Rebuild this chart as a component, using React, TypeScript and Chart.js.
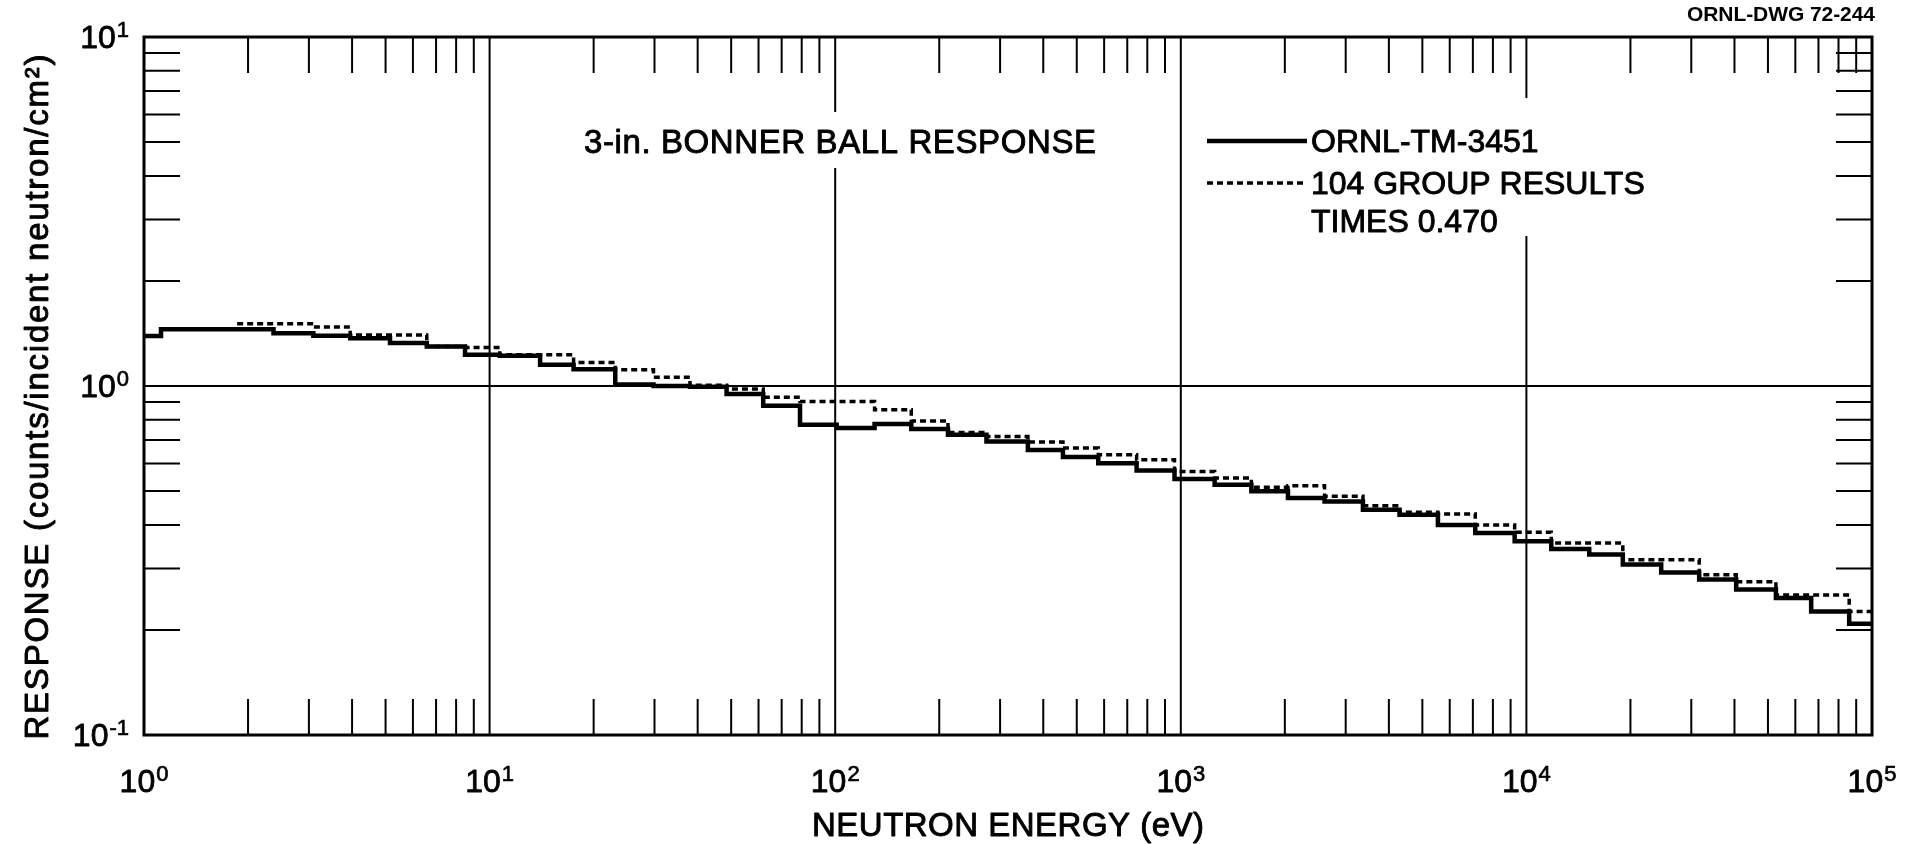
import React, { useEffect, useRef } from 'react';
import { Chart, registerables } from 'chart.js';

Chart.register(...registerables);

// ---------- data ----------
// ORNL-TM-3451 response: group edges (eV) and response per group
const ORNL_EDGES = [
  1, 1.12, 2.37, 3.09, 3.95, 5.15, 6.58, 8.49, 10.7, 14.0, 17.5, 23.1, 29.8, 38.0, 48.5,
  61.9, 79.1, 101, 130, 166, 212, 274, 361, 456, 577, 745, 959, 1253, 1600, 2042, 2606,
  3365, 4295, 5546, 7112, 9247, 11800, 15200, 19010, 24550, 31620, 40460, 52720, 66680,
  85900, 100000,
];
const ORNL_VALUES = [
  1.39, 1.455, 1.417, 1.392, 1.371, 1.327, 1.297, 1.229, 1.22, 1.15, 1.117, 1.01, 1.0,
  0.995, 0.948, 0.878, 0.774, 0.758, 0.778, 0.753, 0.725, 0.693, 0.656, 0.626, 0.601,
  0.573, 0.541, 0.521, 0.499, 0.478, 0.467, 0.442, 0.428, 0.4, 0.379, 0.359, 0.341,
  0.329, 0.308, 0.292, 0.279, 0.261, 0.247, 0.226, 0.2085,
];
// 104 group results times 0.470
const GROUP_EDGES = [
  1.86, 3.09, 3.95, 6.58, 8.49, 10.7, 17.5, 23.1, 29.8, 38.0, 48.5, 61.9, 79.1, 130, 166,
  212, 274, 361, 456, 577, 745, 959, 1253, 1600, 2042, 2606, 3365, 4295, 5546, 7112, 9247,
  11800, 19010, 31620, 40460, 52720, 85900, 100000,
];
const GROUP_VALUES = [
  1.507, 1.475, 1.4, 1.297, 1.29, 1.229, 1.168, 1.113, 1.06, 1.005, 0.98, 0.929, 0.903,
  0.855, 0.794, 0.736, 0.717, 0.691, 0.664, 0.635, 0.615, 0.569, 0.545, 0.513, 0.518,
  0.483, 0.454, 0.435, 0.43, 0.4, 0.381, 0.355, 0.318, 0.288, 0.275, 0.252, 0.226,
];

const X_DECADES = [1, 10, 100, 1000, 10000, 100000];
const X_EXPONENTS = ['0', '1', '2', '3', '4', '5'];
const Y_DECADES = [0.1, 1, 10];
const Y_EXPONENTS = ['-1', '0', '1'];
const MINOR_MULTIPLIERS = [2, 3, 4, 5, 6, 7, 8, 9];

const TITLE_TEXT = '3-in. BONNER BALL RESPONSE';
const LEGEND_SOLID = 'ORNL-TM-3451';
const LEGEND_DOTTED = '104 GROUP RESULTS';
const LEGEND_DOTTED_2 = 'TIMES 0.470';
const X_TITLE = 'NEUTRON ENERGY (eV)';
const Y_TITLE = 'RESPONSE (counts/incident neutron/cm²)';
const DWG_TEXT = 'ORNL-DWG 72-244';

// ---------- layout / style constants ----------
const W = 1909;
const H = 844;
const FONT = '"Liberation Sans", Arial, sans-serif';
const CAP = 0.716;
const TICK_LEN = 36;
const DOT_DASH = [6, 4];

function toSteps(edges: number[], values: number[]) {
  const pts: { x: number; y: number }[] = [];
  values.forEach((v, i) => {
    pts.push({ x: edges[i], y: v });
    pts.push({ x: edges[i + 1], y: v });
  });
  return pts;
}

function line(ctx: CanvasRenderingContext2D, x1: number, y1: number, x2: number, y2: number) {
  ctx.beginPath();
  ctx.moveTo(x1, y1);
  ctx.lineTo(x2, y2);
  ctx.stroke();
}

function ink(ctx: CanvasRenderingContext2D, s: string, x: number, y: number, weight: number) {
  ctx.fillText(s, x, y);
  if (weight > 0) {
    ctx.lineWidth = weight;
    ctx.lineJoin = 'round';
    ctx.strokeText(s, x, y);
  }
}

// draw text with its caps vertically centred at cy, stretched to a width if asked
function text(
  ctx: CanvasRenderingContext2D,
  s: string,
  x: number,
  cy: number,
  size: number,
  align: 'left' | 'center' | 'right',
  width?: number,
  bold = false,
  weight = 0.9
) {
  ctx.font = `${bold ? 'bold ' : ''}${size}px ${FONT}`;
  (ctx as any).letterSpacing = '0px';
  let w = ctx.measureText(s).width;
  const n = Array.from(s).length;
  if (width) {
    const ls = (width - w) / Math.max(1, n - 1);
    (ctx as any).letterSpacing = `${ls}px`;
    w = width;
  }
  let left = x;
  if (align === 'center') left = x - w / 2;
  if (align === 'right') left = x - w;
  ctx.textAlign = 'left';
  ctx.textBaseline = 'alphabetic';
  ink(ctx, s, left, cy + (size * CAP) / 2, weight);
  (ctx as any).letterSpacing = '0px';
}

function power(
  ctx: CanvasRenderingContext2D,
  exp: string,
  x: number,
  cy: number,
  align: 'center' | 'right'
) {
  const base = 32;
  const small = 22;
  ctx.font = `${base}px ${FONT}`;
  const wb = ctx.measureText('10').width;
  ctx.font = `${small}px ${FONT}`;
  const we = ctx.measureText(exp).width;
  const gap = 1;
  const total = wb + gap + we;
  const left = align === 'center' ? x - total / 2 : x - total;
  const baseline = cy + (base * CAP) / 2;
  ctx.textAlign = 'left';
  ctx.textBaseline = 'alphabetic';
  ctx.font = `${base}px ${FONT}`;
  ink(ctx, '10', left, baseline, 0.8);
  ctx.font = `${small}px ${FONT}`;
  ink(ctx, exp, left + wb + gap, baseline - 11, 0.7);
}

const decorPlugin = {
  id: 'bonnerDecor',
  beforeDatasetsDraw(chart: any) {
    const { ctx, chartArea } = chart;
    const { left, right, top, bottom } = chartArea;
    const xs = chart.scales.x;
    const ys = chart.scales.y;
    ctx.save();
    ctx.strokeStyle = '#000';
    ctx.lineCap = 'butt';
    ctx.lineWidth = 2;
    X_DECADES.forEach((v) => {
      const px = xs.getPixelForValue(v);
      line(ctx, px, top, px, bottom);
    });
    Y_DECADES.forEach((v) => {
      const py = ys.getPixelForValue(v);
      line(ctx, left, py, right, py);
    });
    X_DECADES.slice(0, -1).forEach((d) =>
      MINOR_MULTIPLIERS.forEach((m) => {
        const px = xs.getPixelForValue(d * m);
        line(ctx, px, top, px, top + TICK_LEN);
        line(ctx, px, bottom - TICK_LEN, px, bottom);
      })
    );
    Y_DECADES.slice(0, -1).forEach((d) =>
      MINOR_MULTIPLIERS.forEach((m) => {
        const py = ys.getPixelForValue(d * m);
        line(ctx, left, py, left + TICK_LEN, py);
        line(ctx, right - TICK_LEN, py, right, py);
      })
    );
    ctx.lineWidth = 3;
    ctx.strokeRect(left, top, right - left, bottom - top);
    // blank areas behind the caption and the legend (grid lines break there)
    ctx.fillStyle = '#fff';
    ctx.fillRect(575, 112, 535, 56);
    ctx.fillRect(1195, 98, 470, 138);
    ctx.restore();
  },
  afterDraw(chart: any) {
    const { ctx, chartArea } = chart;
    const { left, right, bottom } = chartArea;
    const xs = chart.scales.x;
    const ys = chart.scales.y;
    ctx.save();
    ctx.fillStyle = '#000';
    ctx.strokeStyle = '#000';

    // tick labels
    X_DECADES.forEach((v, i) => power(ctx, X_EXPONENTS[i], xs.getPixelForValue(v), bottom + 46, 'center'));
    Y_DECADES.forEach((v, i) => power(ctx, Y_EXPONENTS[i], left - 15, ys.getPixelForValue(v), 'right'));

    // caption
    text(ctx, TITLE_TEXT, 584, 141, 33, 'left', 512);

    // legend
    ctx.lineWidth = 4.5;
    ctx.setLineDash([]);
    line(ctx, 1207, 141, 1307, 141);
    ctx.lineWidth = 3.5;
    ctx.setLineDash(DOT_DASH);
    line(ctx, 1207, 183, 1307, 183);
    ctx.setLineDash([]);
    text(ctx, LEGEND_SOLID, 1311, 141, 32, 'left');
    text(ctx, LEGEND_DOTTED, 1311, 183, 32, 'left');
    text(ctx, LEGEND_DOTTED_2, 1311, 221, 32, 'left');

    // drawing number
    text(ctx, DWG_TEXT, 1875, 13, 21, 'right', 188, true, 0);

    // axis titles
    text(ctx, X_TITLE, (left + right) / 2, 824, 33, 'center', 392);
    ctx.translate(36, 397);
    ctx.rotate(-Math.PI / 2);
    text(ctx, Y_TITLE, 0, 0, 33, 'center', 685);
    ctx.restore();
  },
};

export default function App() {
  const canvasRef = useRef<HTMLCanvasElement | null>(null);

  useEffect(() => {
    const canvas = canvasRef.current;
    if (!canvas) return;
    const chart = new Chart(canvas, {
      type: 'line',
      data: {
        datasets: [
          {
            label: LEGEND_SOLID,
            data: toSteps(ORNL_EDGES, ORNL_VALUES),
            borderColor: '#000',
            borderWidth: 4.5,
            pointRadius: 0,
            fill: false,
            tension: 0,
            borderJoinStyle: 'miter',
            borderCapStyle: 'butt',
          },
          {
            label: `${LEGEND_DOTTED} ${LEGEND_DOTTED_2}`,
            data: toSteps(GROUP_EDGES, GROUP_VALUES),
            borderColor: '#000',
            borderWidth: 3.5,
            borderDash: DOT_DASH,
            pointRadius: 0,
            fill: false,
            tension: 0,
            borderJoinStyle: 'miter',
            borderCapStyle: 'butt',
          },
        ],
      },
      options: {
        animation: false,
        responsive: false,
        devicePixelRatio: 1,
        layout: { padding: { top: 37, right: 37, left: 0, bottom: 0 } },
        plugins: { legend: { display: false }, tooltip: { enabled: false }, title: { display: false } },
        scales: {
          x: {
            type: 'logarithmic',
            min: 1,
            max: 100000,
            ticks: { display: false },
            grid: { display: false },
            border: { display: false },
            afterFit: (s: any) => {
              s.height = 109;
            },
          },
          y: {
            type: 'logarithmic',
            min: 0.1,
            max: 10,
            ticks: { display: false },
            grid: { display: false },
            border: { display: false },
            afterFit: (s: any) => {
              s.width = 144;
            },
          },
        },
      } as any,
      plugins: [decorPlugin as any],
    });
    return () => chart.destroy();
  }, []);

  return (
    <div style={{ position: 'fixed', left: 0, top: 0, width: W, height: H, background: '#fff' }}>
      <canvas ref={canvasRef} width={W} height={H} style={{ display: 'block' }} />
    </div>
  );
}
